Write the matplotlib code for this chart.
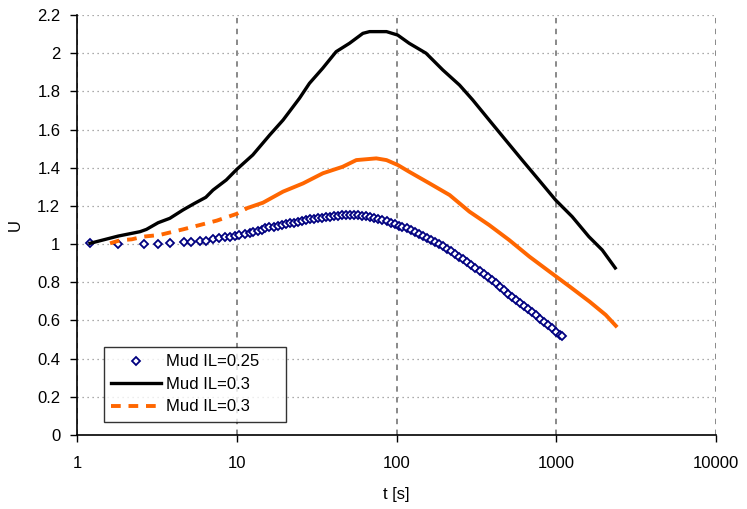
import matplotlib
matplotlib.use("Agg")
import matplotlib.pyplot as plt
from matplotlib.ticker import FixedLocator, FuncFormatter, NullLocator

plt.rcParams["font.family"] = ["Liberation Sans", "DejaVu Sans"]

# Mud IL=0.25 (diamonds)
t_025 = [1.2, 1.81, 2.63, 3.22, 3.81, 4.66, 5.2, 5.88, 6.46, 7.1, 7.76, 8.4, 9.05, 9.7,
         10.4, 11.2, 12.1, 12.7, 13.5, 14.3, 15.1, 16.0, 17.0, 18.0, 19.1, 20.2, 21.4,
         22.7, 24.1, 25.5, 27.0, 28.7, 30.4, 32.2, 34.1, 36.2, 38.3, 40.6, 43.1, 45.6,
         48.4, 51.3, 54.3, 57.6, 61.1, 64.7, 68.6, 72.7, 77.1, 81.7, 86.6, 91.8, 97.3,
         103, 109, 116, 123, 130, 138, 146, 155, 164, 174, 185, 196, 208, 220, 233, 247,
         262, 278, 294, 312, 331, 351, 372, 394, 418, 443, 469, 497, 527, 559, 592, 628,
         665, 705, 747, 792, 840, 890, 943, 1000, 1060, 1090]
u_025 = [1.004, 1.0, 1.0, 1.0, 1.004, 1.009, 1.009, 1.018, 1.018, 1.025, 1.03, 1.035, 1.039,
         1.042, 1.048, 1.052, 1.057, 1.063, 1.069, 1.076, 1.082, 1.088, 1.092, 1.096, 1.101,
         1.105, 1.109, 1.113, 1.118, 1.122, 1.126, 1.130, 1.133, 1.136, 1.139, 1.142, 1.144,
         1.146, 1.148, 1.150, 1.151, 1.152, 1.152, 1.151, 1.148, 1.145, 1.141, 1.137, 1.132,
         1.126, 1.119, 1.112, 1.104, 1.097, 1.090, 1.082, 1.073, 1.065, 1.055, 1.045, 1.034,
         1.023, 1.012, 1.000, 0.988, 0.976, 0.964, 0.950, 0.935, 0.921, 0.906, 0.892, 0.876,
         0.860, 0.843, 0.827, 0.811, 0.794, 0.776, 0.758, 0.740, 0.723, 0.707, 0.691, 0.675,
         0.659, 0.643, 0.626, 0.609, 0.592, 0.575, 0.558, 0.540, 0.524, 0.517]

# Mud IL=0.3 (black)
t_black = [1.206, 1.81, 2.48, 2.72, 3.22, 3.81, 4.61, 5.46, 6.4, 7.1, 8.6, 9.96, 12.6,
           16.1, 19.5, 24.7, 28.5, 34.5, 41.9, 50.8, 61.6, 67.8, 86.6, 101.7, 120, 153,
           195, 248, 300, 380, 482, 612, 778, 990, 1257, 1600, 1940, 2340]
u_black = [1.004, 1.042, 1.065, 1.077, 1.112, 1.135, 1.179, 1.214, 1.245, 1.283, 1.336,
           1.39, 1.467, 1.572, 1.650, 1.764, 1.842, 1.921, 2.008, 2.052, 2.104, 2.113,
           2.113, 2.095, 2.052, 2.0, 1.912, 1.833, 1.755, 1.650, 1.545, 1.440, 1.336,
           1.231, 1.144, 1.039, 0.969, 0.875]

# Mud IL=0.3 (orange dashed)
t_orange = [1.61, 1.86, 2.2, 2.6, 3.3, 4.0, 4.6, 5.88, 7.5, 8.6, 9.96, 11.5, 14.6, 19.5,
            26, 34.6, 46, 56, 74.7, 86.6, 102, 120, 161, 215, 286, 380, 508, 680, 910,
            1216, 1620, 2040, 2360]
u_orange = [1.004, 1.02, 1.025, 1.039, 1.048, 1.065, 1.077, 1.1, 1.123, 1.140, 1.158, 1.187,
            1.217, 1.275, 1.318, 1.371, 1.405, 1.440, 1.449, 1.440, 1.414, 1.379, 1.318,
            1.257, 1.170, 1.1, 1.021, 0.934, 0.855, 0.777, 0.698, 0.629, 0.572]

x_ticks = [1, 10, 100, 1000, 10000]
y_ticks = [0, 0.2, 0.4, 0.6, 0.8, 1, 1.2, 1.4, 1.6, 1.8, 2, 2.2]

FONT_SIZE = 12

fig = plt.figure(figsize=(7.47, 5.09), dpi=100)
ax = fig.add_axes([0.1031, 0.1454, 0.8554, 0.8251])

ax.plot(t_025, u_025, linestyle="none", marker="D", markersize=4.5,
        markerfacecolor="white", markeredgecolor="#000080", markeredgewidth=1.3,
        label="Mud IL=0.25", zorder=3)
ax.plot(t_black, u_black, color="black", linewidth=2.4, label="Mud IL=0.3", zorder=4)

# Excel restarts the dash on every segment, so the dense part looks solid
n_dash = 12
ax.plot(t_orange[:n_dash], u_orange[:n_dash], color="#FF6600", linewidth=2.8,
        dashes=(2.5, 2.0), label="Mud IL=0.3", zorder=4)
ax.plot(t_orange[n_dash - 1:], u_orange[n_dash - 1:], color="#FF6600", linewidth=2.8,
        zorder=4)

ax.set_xscale("log")
ax.set_xlim(1, 10000)
ax.set_ylim(0, 2.2)
ax.xaxis.set_major_locator(FixedLocator(x_ticks))
ax.xaxis.set_minor_locator(NullLocator())
ax.xaxis.set_major_formatter(FuncFormatter(lambda v, p: f"{v:g}"))
ax.yaxis.set_major_locator(FixedLocator(y_ticks))
ax.yaxis.set_major_formatter(FuncFormatter(lambda v, p: f"{v:g}"))

ax.grid(axis="x", color="#808080", linestyle=(0, (3, 3)), linewidth=1.3)
ax.grid(axis="y", color="#909090", linestyle=(0, (1, 3)), linewidth=0.9)
ax.set_axisbelow(True)

for side in ["top", "right"]:
    ax.spines[side].set_visible(False)
for side in ["left", "bottom"]:
    ax.spines[side].set_linewidth(1.2)
ax.tick_params(direction="out", length=5, width=1, labelsize=FONT_SIZE, pad=7)
ax.tick_params(axis="x", pad=10)

ax.set_xlabel("t [s]", fontsize=FONT_SIZE, labelpad=12)
ax.set_ylabel("U", fontsize=FONT_SIZE, labelpad=10)

leg = ax.legend(loc="lower left", bbox_to_anchor=(0.042, 0.031, 0.285, 0.224),
                mode="expand", fontsize=FONT_SIZE, frameon=True, fancybox=False,
                edgecolor="black", handlelength=3.0, borderaxespad=0,
                labelspacing=0.45, handletextpad=0.3, borderpad=0.45,
                markerscale=0.8)
leg.get_frame().set_linewidth(1.0)

fig.savefig("out.png", dpi=100)
